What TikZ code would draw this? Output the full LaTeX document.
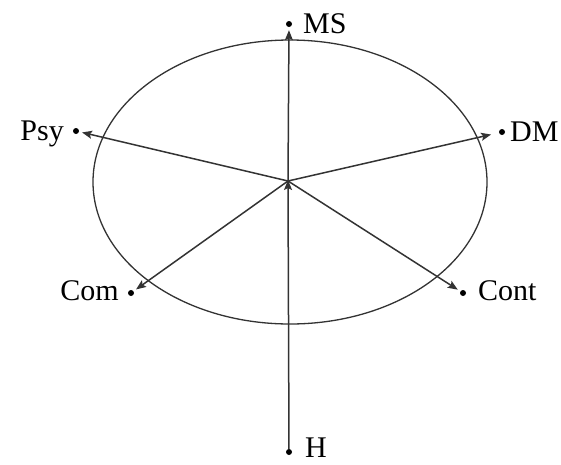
\documentclass[tikz,border=0pt]{standalone}
\usepackage{fontspec}
\setmainfont{Liberation Serif}
\usetikzlibrary{arrows.meta}
\begin{document}
\begin{tikzpicture}[x=1pt,y=-1pt,
  dotn/.style={circle,fill=black,inner sep=0pt,minimum size=6pt},
  lab/.style={font=\fontsize{30}{34}\selectfont,inner sep=0pt},
  arr/.style={draw=black!80,line width=1.5pt,-{Stealth[length=10pt,width=8pt,inset=2pt]},shorten >=3pt}]
\useasboundingbox (0,0) rectangle (561,464);
\draw[black!80,line width=1.3pt] (290,182) ellipse [x radius=197, y radius=-142];
\coordinate (O) at (288,181);
\node[dotn] (ms) at (289,24) {};
\node[dotn] (psy) at (76,131) {};
\node[dotn] (dm) at (502,132) {};
\node[dotn] (com) at (131,293) {};
\node[dotn] (cont) at (463,293) {};
\node[dotn] (h) at (289,452) {};
\node[lab,anchor=base west] (tms) at (303,33) {MS};
\node[lab,anchor=base east] (tpsy) at (64,140) {Psy};
\node[lab,anchor=base west] (tdm) at (510,141) {DM};
\node[lab,anchor=base east] (tcom) at (119,300) {Com};
\node[lab,anchor=base west] (tcont) at (478,300) {Cont};
\node[lab,anchor=base west] (th) at (305,457) {H};
\draw[arr] (O) -- (ms);
\draw[arr] (O) -- (psy);
\draw[arr,shorten >=8pt] (O) -- (dm);
\draw[arr] (O) -- (com);
\draw[arr] (O) -- (cont);
\draw[arr,shorten >=-1pt] (h) -- (O);
\end{tikzpicture}
\end{document}
